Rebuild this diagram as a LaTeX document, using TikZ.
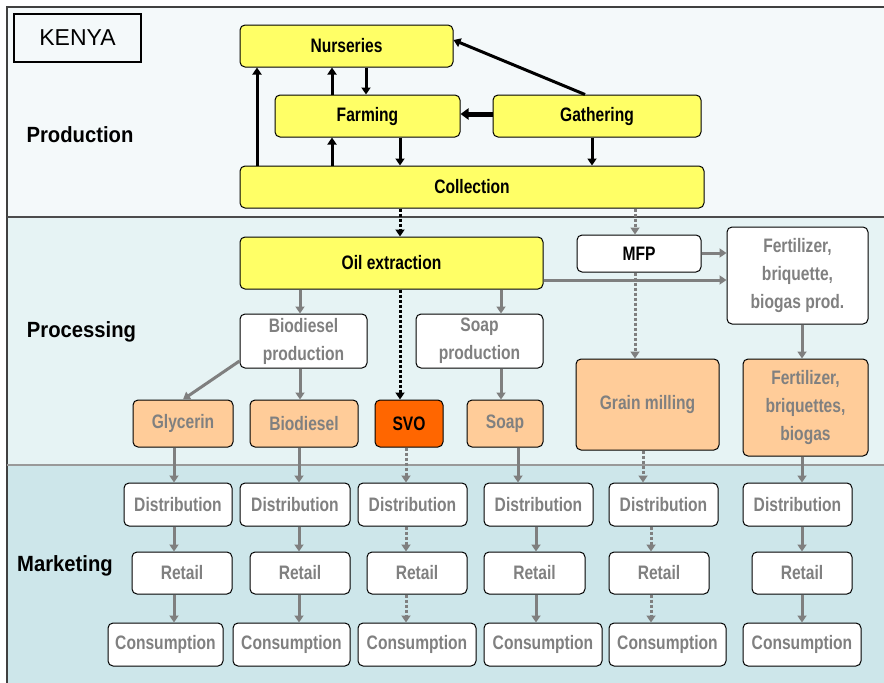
\documentclass[tikz,border=0pt]{standalone}
\usepackage{fontspec}
\setmainfont{Liberation Sans}
\newfontfamily\cond[FakeStretch=0.8]{Liberation Sans}
\newfontfamily\labf[FakeStretch=0.92]{Liberation Sans}
\usetikzlibrary{arrows.meta}
\definecolor{ylw}{HTML}{FFFF66}
\definecolor{peach}{HTML}{FFCC99}
\definecolor{svoc}{HTML}{FF6600}
\definecolor{txtgray}{HTML}{808080}
\definecolor{arrgray}{HTML}{7F7F7F}
\definecolor{prodbg}{HTML}{F4F9FA}
\definecolor{procbg}{HTML}{E6F3F4}
\definecolor{mktbg}{HTML}{CDE6EA}
\begin{document}
\begin{tikzpicture}[x=1pt,y=-1pt,
  box/.style={draw=black, line width=1pt, rounded corners=5pt, inner sep=0pt, align=center,
    font=\cond\bfseries\fontsize{19.5}{28}\selectfont},
  ybox/.style={box, fill=ylw, text=black},
  wbox/.style={box, fill=white, text=txtgray},
  pbox/.style={box, fill=peach, text=txtgray},
  lab/.style={font=\labf\bfseries\fontsize{22}{26}\selectfont, text=black, inner sep=0pt},
  barr/.style={draw=black, line width=3pt, -{Triangle[length=7pt,width=9pt]}},
  garr/.style={draw=arrgray, line width=3pt, -{Triangle[length=7pt,width=9pt]}},
  bdot/.style={barr, dash pattern=on 3pt off 2pt},
  gdot/.style={garr, dash pattern=on 3pt off 2pt},
]
\useasboundingbox (0,0) rectangle (884,683);
% backgrounds
\fill[white] (0,0) rectangle (884,683);
\fill[prodbg] (7,7) rectangle (884,217);
\fill[procbg] (7,217) rectangle (884,465);
\fill[mktbg] (7,465) rectangle (884,683);
\draw[line width=1.5pt, draw=black!75] (884,7) -- (7,7) -- (7,683);
\draw[line width=1.5pt, draw=black!70] (7,217) -- (884,217);
\draw[line width=2pt, draw=black!40] (7,465) -- (884,465);

% labels
\node[draw=black, line width=1.5pt, minimum width=127pt, minimum height=48pt, inner sep=0pt,
  font=\fontsize{23}{26}\selectfont] (kenya) at (77.5,38) {KENYA};
\node[lab] (lprod) at (80,135) {Production};
\node[lab] (lproc) at (81.5,332) {Processing};
\node[lab] (lmkt) at (65,566) {Marketing};

% production
\node[ybox, minimum width=213pt, minimum height=42pt] (nur) at (346.5,46) {Nurseries};
\node[ybox, minimum width=185pt, minimum height=42pt] (farm) at (367.5,116) {Farming};
\node[ybox, minimum width=208pt, minimum height=42pt] (gath) at (597,116) {Gathering};
\node[ybox, minimum width=464pt, minimum height=42pt] (coll) at (472,187) {Collection};

% processing
\node[ybox, minimum width=303pt, minimum height=52pt] (oil) at (391.5,263) {Oil extraction};
\node[box, fill=white, text=black, minimum width=124pt, minimum height=37pt] (mfp) at (639,253.5) {MFP};
\node[wbox, minimum width=141pt, minimum height=97pt] (fprod) at (797.5,275.5) {Fertilizer,\\briquette,\\biogas prod.};
\node[wbox, minimum width=127pt, minimum height=54pt] (bprod) at (303.5,341) {Biodiesel\\production};
\node[wbox, minimum width=127pt, minimum height=54pt] (sprod) at (479.5,341) {Soap\\production};
\node[pbox, minimum width=100pt, minimum height=47pt] (gly) at (183,423.5) {Glycerin};
\node[pbox, minimum width=108pt, minimum height=47pt] (bio) at (304,423.5) {Biodiesel};
\node[box, fill=svoc, text=black, minimum width=68pt, minimum height=47pt] (svo) at (409,423.5) {SVO};
\node[pbox, minimum width=76pt, minimum height=47pt] (soap) at (505,423.5) {Soap};
\node[pbox, minimum width=143pt, minimum height=91pt] (grain) at (647.5,404.5) {Grain milling};
\node[pbox, minimum width=125pt, minimum height=97pt] (fert) at (805.5,407.5) {Fertilizer,\\briquettes,\\biogas};

% marketing
\node[wbox, minimum width=108pt, minimum height=43pt] (d1) at (178,504.5) {Distribution};
\node[wbox, minimum width=100pt, minimum height=42pt] (r1) at (182,573) {Retail};
\node[wbox, minimum width=115pt, minimum height=43pt] (c1) at (165.5,644.5) {Consumption};
\node[wbox, minimum width=110pt, minimum height=43pt] (d2) at (295,504.5) {Distribution};
\node[wbox, minimum width=100pt, minimum height=42pt] (r2) at (300,573) {Retail};
\node[wbox, minimum width=117pt, minimum height=43pt] (c2) at (291.5,644.5) {Consumption};
\node[wbox, minimum width=109pt, minimum height=43pt] (d3) at (412.5,504.5) {Distribution};
\node[wbox, minimum width=100pt, minimum height=42pt] (r3) at (417,573) {Retail};
\node[wbox, minimum width=118pt, minimum height=43pt] (c3) at (417,644.5) {Consumption};
\node[wbox, minimum width=109pt, minimum height=43pt] (d4) at (538.5,504.5) {Distribution};
\node[wbox, minimum width=101pt, minimum height=42pt] (r4) at (534.5,573) {Retail};
\node[wbox, minimum width=118pt, minimum height=43pt] (c4) at (543,644.5) {Consumption};
\node[wbox, minimum width=109pt, minimum height=43pt] (d5) at (663.5,504.5) {Distribution};
\node[wbox, minimum width=100pt, minimum height=42pt] (r5) at (659,573) {Retail};
\node[wbox, minimum width=117pt, minimum height=43pt] (c5) at (667.5,644.5) {Consumption};
\node[wbox, minimum width=109pt, minimum height=43pt] (d6) at (797.5,504.5) {Distribution};
\node[wbox, minimum width=100pt, minimum height=42pt] (r6) at (802,573) {Retail};
\node[wbox, minimum width=118pt, minimum height=43pt] (c6) at (802,644.5) {Consumption};

% production arrows
\draw[barr] (coll.north -| 257,0) -- (nur.south -| 257,0);
\draw[barr] (farm.north -| 332,0) -- (nur.south -| 332,0);
\draw[barr] (nur.south -| 366,0) -- (farm.north -| 366,0);
\draw[barr] (coll.north -| 332,0) -- (farm.south -| 332,0);
\draw[barr] (farm.south -| 400,0) -- (coll.north -| 400,0);
\draw[barr, line width=5pt, -{Triangle[length=8pt,width=11pt]}] (gath.west |- 0,114) -- (farm.east |- 0,114);
\draw[barr] (gath.north -| 585,0) -- (nur.east |- 0,40);
\draw[barr] (gath.south -| 592,0) -- (coll.north -| 592,0);
\draw[bdot] (coll.south -| 400,0) -- (oil.north -| 400,0);
\draw[gdot] (coll.south -| 635,0) -- (mfp.north -| 635,0);

% processing arrows
\draw[garr] (oil.south -| 300,0) -- (bprod.north -| 300,0);
\draw[bdot] (oil.south -| 400,0) -- (svo.north -| 400,0);
\draw[garr] (oil.south -| 501,0) -- (sprod.north -| 501,0);
\draw[garr] (oil.east |- 0,280) -- (fprod.west |- 0,280);
\draw[garr] (mfp.east |- 0,253) -- (fprod.west |- 0,253);
\draw[gdot] (mfp.south -| 635,0) -- (grain.north -| 635,0);
\draw[garr] (bprod.west |- 0,361) -- (gly.north -| 183,0);
\draw[garr] (bprod.south -| 300,0) -- (bio.north -| 300,0);
\draw[garr] (sprod.south -| 501,0) -- (soap.north -| 501,0);
\draw[garr] (fprod.south -| 802,0) -- (fert.north -| 802,0);

% marketing arrows
\draw[garr] (gly.south -| 174,0) -- (d1.north -| 174,0);
\draw[garr] (d1.south -| 174,0) -- (r1.north -| 174,0);
\draw[garr] (r1.south -| 174,0) -- (c1.north -| 174,0);
\draw[garr] (bio.south -| 299,0) -- (d2.north -| 299,0);
\draw[garr] (d2.south -| 299,0) -- (r2.north -| 299,0);
\draw[garr] (r2.south -| 299,0) -- (c2.north -| 299,0);
\draw[gdot] (svo.south -| 406,0) -- (d3.north -| 406,0);
\draw[gdot] (d3.south -| 406,0) -- (r3.north -| 406,0);
\draw[gdot] (r3.south -| 406,0) -- (c3.north -| 406,0);
\draw[garr] (soap.south -| 518,0) -- (d4.north -| 518,0);
\draw[garr] (d4.south -| 536,0) -- (r4.north -| 536,0);
\draw[garr] (r4.south -| 536,0) -- (c4.north -| 536,0);
\draw[gdot] (grain.south -| 643,0) -- (d5.north -| 643,0);
\draw[gdot] (d5.south -| 651,0) -- (r5.north -| 651,0);
\draw[gdot] (r5.south -| 651,0) -- (c5.north -| 651,0);
\draw[garr] (fert.south -| 802,0) -- (d6.north -| 802,0);
\draw[garr] (d6.south -| 802,0) -- (r6.north -| 802,0);
\draw[garr] (r6.south -| 802,0) -- (c6.north -| 802,0);
\end{tikzpicture}
\end{document}
